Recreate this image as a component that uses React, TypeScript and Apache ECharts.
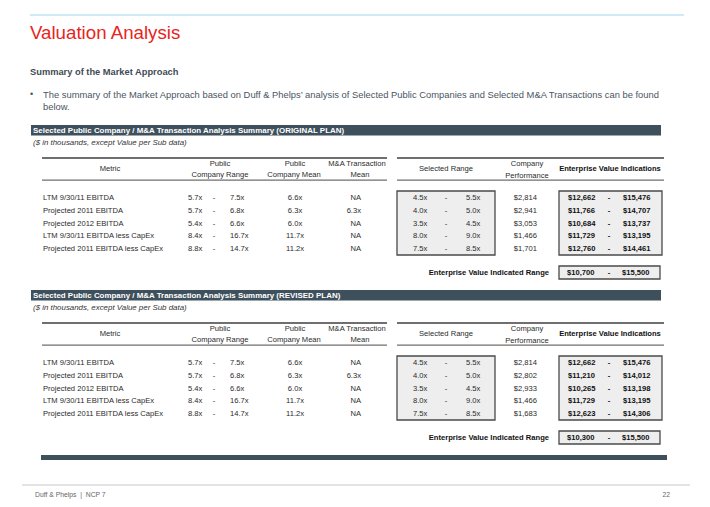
import React, { useEffect, useRef } from "react";
import * as echarts from "echarts";

const metrics = [
  "LTM 9/30/11 EBITDA",
  "Projected 2011 EBITDA",
  "Projected 2012 EBITDA",
  "LTM 9/30/11 EBITDA less CapEx",
  "Projected 2011 EBITDA less CapEx",
];
const pubLow = [5.7, 5.7, 5.4, 8.4, 8.8];
const pubHigh = [7.5, 6.8, 6.6, 16.7, 14.7];
const pubMean = [6.6, 6.3, 6.0, 11.7, 11.2];
const maMean: (number | null)[] = [null, 6.3, null, null, null];
const selLow = [4.5, 4.0, 3.5, 8.0, 7.5];
const selHigh = [5.5, 5.0, 4.5, 9.0, 8.5];

const perfOriginal = [2814, 2941, 3053, 1466, 1701];
const evLowOriginal = [12662, 11766, 10684, 11729, 12760];
const evHighOriginal = [15476, 14707, 13737, 13195, 14461];
const evRangeOriginal = [10700, 15500];

const perfRevised = [2814, 2802, 2933, 1466, 1683];
const evLowRevised = [12662, 11210, 10265, 11729, 12623];
const evHighRevised = [15476, 14012, 13198, 13195, 14306];
const evRangeRevised = [10300, 15500];

const sectionTitles = [
  "Selected Public Company / M&A Transaction Analysis Summary (ORIGINAL PLAN)",
  "Selected Public Company / M&A Transaction Analysis Summary (REVISED PLAN)",
];

const FONT = "Liberation Sans, Arial, Helvetica, sans-serif";
const DARK = "#3e505b";
const TXT = "#2b2b2b";

const mult = (v: number | null) => (v == null ? "NA" : v.toFixed(1) + "x");
const money = (v: number) => "$" + v.toLocaleString("en-US");

function txt(
  text: string,
  x: number,
  y: number,
  opts: { size?: number; weight?: string; align?: string; fill?: string; style?: string } = {}
) {
  return {
    type: "text",
    x,
    y,
    silent: true,
    style: {
      text,
      fill: opts.fill || TXT,
      fontSize: opts.size || 7.6,
      fontWeight: opts.weight || "normal",
      fontStyle: opts.style || "normal",
      fontFamily: FONT,
      align: opts.align || "left",
      verticalAlign: "middle",
    },
  };
}

function rect(x: number, y: number, w: number, h: number, fill: string, stroke?: string, lw = 1) {
  return {
    type: "rect",
    silent: true,
    shape: { x, y, width: w, height: h },
    style: { fill, stroke: stroke || null, lineWidth: lw },
  };
}

function section(
  base: number,
  title: string,
  perf: number[],
  evLow: number[],
  evHigh: number[],
  evRange: number[]
) {
  const els: any[] = [];
  els.push(rect(31, base, 630, 10.5, DARK));
  els.push(txt(title, 33, base + 5.5, { size: 7.95, weight: "bold", fill: "#ffffff" }));
  els.push(
    txt("($ in thousands, except Value per Sub data)", 33, base + 17.5, { size: 7.9, style: "italic", fill: "#333" })
  );
  // header rules
  els.push(rect(42, base + 32, 345, 2, "#6f6f6f"));
  els.push(rect(397, base + 32, 267, 2, "#6f6f6f"));
  els.push(rect(42, base + 54.5, 345, 1.3, "#6f6f6f"));
  els.push(rect(397, base + 54.5, 267, 1.3, "#6f6f6f"));
  const l1 = base + 38.5;
  const l2 = base + 49;
  const lm = base + 43.7;
  els.push(txt("Metric", 110, lm, { align: "center" }));
  els.push(txt("Public", 220, l1, { align: "center" }));
  els.push(txt("Company Range", 220, l2, { align: "center" }));
  els.push(txt("Public", 295, l1, { align: "center" }));
  els.push(txt("Company Mean", 294, l2, { align: "center" }));
  els.push(txt("M&A Transaction", 357, l1, { align: "center" }));
  els.push(txt("Mean", 360, l2, { align: "center" }));
  els.push(txt("Selected Range", 446, lm, { align: "center" }));
  els.push(txt("Company", 527, l1, { align: "center" }));
  els.push(txt("Performance", 527, l2 + 1, { align: "center" }));
  els.push(txt("Enterprise Value Indications", 610, lm, { align: "center", weight: "bold", fill: "#111" }));

  // boxes
  const boxTop = base + 66;
  const rowH = 12.8;
  const boxH = rowH * metrics.length;
  els.push(rect(397, boxTop, 98, boxH, "#eeeeee", "#4a4a4a", 1.3));
  els.push(rect(559, boxTop, 103, boxH, "#eeeeee", "#4a4a4a", 1.3));

  metrics.forEach((m, i) => {
    const y = boxTop + rowH / 2 + rowH * i;
    els.push(txt(m, 43, y));
    els.push(txt(mult(pubLow[i]), 188, y));
    els.push(txt("-", 214, y, { align: "center" }));
    els.push(txt(mult(pubHigh[i]), 230, y));
    els.push(txt(mult(pubMean[i]), 295, y, { align: "center" }));
    els.push(txt(mult(maMean[i]), 361, y, { align: "right" }));
    els.push(txt(mult(selLow[i]), 413, y));
    els.push(txt("-", 446, y, { align: "center" }));
    els.push(txt(mult(selHigh[i]), 466, y));
    els.push(txt(money(perf[i]), 537, y, { align: "right" }));
    els.push(txt(money(evLow[i]), 568, y, { weight: "bold", fill: "#111" }));
    els.push(txt("-", 609, y, { align: "center", weight: "bold", fill: "#111" }));
    els.push(txt(money(evHigh[i]), 623, y, { weight: "bold", fill: "#111" }));
  });

  const ey = base + 147.5;
  els.push(txt("Enterprise Value Indicated Range", 549, ey, { align: "right", weight: "bold", fill: "#111" }));
  els.push(rect(559, base + 141, 101, 13, "#eeeeee", "#4a4a4a", 1.3));
  els.push(txt(money(evRange[0]), 567, ey, { weight: "bold", fill: "#111" }));
  els.push(txt("-", 609, ey, { align: "center", weight: "bold", fill: "#111" }));
  els.push(txt(money(evRange[1]), 622, ey, { weight: "bold", fill: "#111" }));
  return els;
}

export default function App() {
  const ref = useRef<HTMLDivElement>(null);
  useEffect(() => {
    if (!ref.current) return;
    const chart = echarts.init(ref.current, null, { renderer: "svg" });
    const elements: any[] = [];
    // top rule
    elements.push(rect(30, 14.5, 654, 1, "#9fd6ee"));
    elements.push(txt("Valuation Analysis", 30, 32, { size: 18.7, fill: "#e8241c" }));
    elements.push(txt("Summary of the Market Approach", 30, 72, { size: 9.3, weight: "bold", fill: "#3f4b55" }));
    elements.push(txt("•", 30, 94, { size: 9, fill: "#4a555f" }));
    elements.push(
      txt(
        "The summary of the Market Approach based on Duff & Phelps’ analysis of Selected Public Companies and Selected M&A Transactions can be found",
        43,
        94,
        { size: 9.4, fill: "#4a555f" }
      )
    );
    elements.push(txt("below.", 43, 106.5, { size: 9.4, fill: "#4a555f" }));

    elements.push(
      ...section(125, sectionTitles[0], perfOriginal, evLowOriginal, evHighOriginal, evRangeOriginal)
    );
    elements.push(
      ...section(290, sectionTitles[1], perfRevised, evLowRevised, evHighRevised, evRangeRevised)
    );

    elements.push(rect(41, 455, 626, 5, DARK));

    // footer
    elements.push(rect(22, 484.5, 668, 1, "#c8c8c8"));
    elements.push(txt("Duff & Phelps  |  NCP 7", 35, 494.5, { size: 6.8, fill: "#666" }));
    elements.push(txt("22", 670, 494.5, { size: 6.8, fill: "#666", align: "right" }));

    chart.setOption({
      animation: false,
      backgroundColor: "#ffffff",
      graphic: { elements },
    });
    return () => chart.dispose();
  }, []);
  return (
    <div
      ref={ref}
      style={{ position: "absolute", left: 0, top: 0, width: 710, height: 507 }}
    />
  );
}
